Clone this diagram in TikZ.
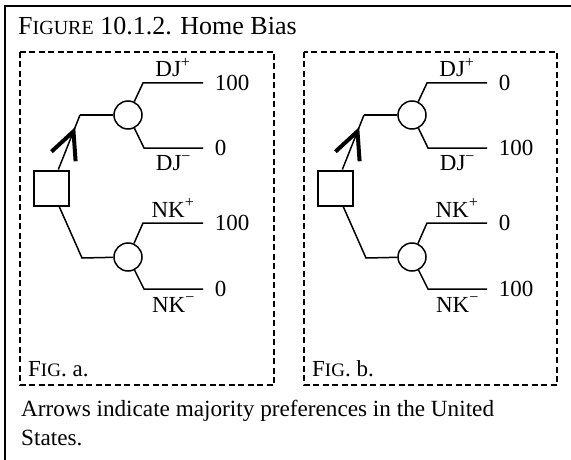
\documentclass[tikz,border=0pt]{standalone}
\usepackage{fontspec}
\setmainfont{Liberation Serif}
\usetikzlibrary{decorations.markings,calc}
\begin{document}
\begin{tikzpicture}[x=1pt,y=-1pt,
  frame/.style={line width=2.2pt},
  dbox/.style={line width=2pt, dash pattern=on 6pt off 3.5pt},
  dec/.style={draw, line width=2pt, rectangle, minimum size=35pt, inner sep=0pt},
  chance/.style={draw, line width=1.5pt, circle, minimum size=28pt, inner sep=0pt},
  branch/.style={line width=1.5pt},
  lbl/.style={font=\fontsize{23}{26}\selectfont, inner sep=0pt},
  pay/.style={lbl, anchor=west, xshift=11pt},
  uplbl/.style={lbl, anchor=base, yshift=6pt},
  dnlbl/.style={lbl, anchor=base, yshift=-23pt},
  figlbl/.style={font=\fontsize{23}{26}\selectfont, inner sep=0pt, anchor=base west},
  txt/.style={font=\fontsize{23.2}{29}\selectfont, inner sep=0pt, anchor=base west},
  pref/.style={postaction={decorate}, decoration={markings, mark=at position 0.7 with {\draw[line width=4pt, line join=miter] (-27,13) -- (0,0) -- (-27,-13);}}}
]
\useasboundingbox (0,0) rectangle (571,460);
\draw[frame] (5,460) -- (5,6) -- (571,6);
\node[txt, font=\fontsize{26}{30}\selectfont] (title) at (18,35) {F{\fontsize{20}{22}\selectfont IGURE} 10.1.2. Home Bias};

% Fig. a
\draw[dbox] (20,52) rectangle (274,385);
\node[dec] (sqA) at (51,188) {};
\coordinate (kA1) at (80,115);
\coordinate (kA2) at (82,258);
\node[chance] (cA1) at (128,115) {};
\node[chance] (cA2) at (128,257) {};
\coordinate (uA1) at (143,83);  \coordinate (uA1e) at (203,83);
\coordinate (dA1) at (144,148); \coordinate (dA1e) at (203,148);
\coordinate (uA2) at (143,223); \coordinate (uA2e) at (203,223);
\coordinate (dA2) at (144,289); \coordinate (dA2e) at (203,289);
\draw[branch, pref] (sqA) -- (kA1);
\draw[branch] (kA1) -- (cA1);
\draw[branch] (sqA) -- (kA2) -- (cA2);
\draw[branch] (cA1) -- (uA1) -- node[uplbl] {DJ\textsuperscript{+}} (uA1e) node[pay] {100};
\draw[branch] (cA1) -- (dA1) -- node[dnlbl] {DJ\textsuperscript{−}} (dA1e) node[pay] {0};
\draw[branch] (cA2) -- (uA2) -- node[uplbl] {NK\textsuperscript{+}} (uA2e) node[pay] {100};
\draw[branch] (cA2) -- (dA2) -- node[dnlbl] {NK\textsuperscript{−}} (dA2e) node[pay] {0};
\node[figlbl] (figa) at (28,376) {F{\fontsize{19}{21}\selectfont IG}. a.};

% Fig. b
\draw[dbox] (304,52) rectangle (557,385);
\begin{scope}[xshift=284pt]
\node[dec] (sqB) at (51,188) {};
\coordinate (kB1) at (80,115);
\coordinate (kB2) at (82,258);
\node[chance] (cB1) at (128,115) {};
\node[chance] (cB2) at (128,257) {};
\coordinate (uB1) at (143,83);  \coordinate (uB1e) at (203,83);
\coordinate (dB1) at (144,148); \coordinate (dB1e) at (203,148);
\coordinate (uB2) at (143,223); \coordinate (uB2e) at (203,223);
\coordinate (dB2) at (144,289); \coordinate (dB2e) at (203,289);
\draw[branch, pref] (sqB) -- (kB1);
\draw[branch] (kB1) -- (cB1);
\draw[branch] (sqB) -- (kB2) -- (cB2);
\draw[branch] (cB1) -- (uB1) -- node[uplbl] {DJ\textsuperscript{+}} (uB1e) node[pay] {0};
\draw[branch] (cB1) -- (dB1) -- node[dnlbl] {DJ\textsuperscript{−}} (dB1e) node[pay] {100};
\draw[branch] (cB2) -- (uB2) -- node[uplbl] {NK\textsuperscript{+}} (uB2e) node[pay] {0};
\draw[branch] (cB2) -- (dB2) -- node[dnlbl] {NK\textsuperscript{−}} (dB2e) node[pay] {100};
\node[figlbl] (figb) at (28,376) {F{\fontsize{19}{21}\selectfont IG}. b.};
\end{scope}

\node[txt] (cap1) at (21,416) {Arrows indicate majority preferences in the United};
\node[txt] (cap2) at (21,445) {States.};
\end{tikzpicture}
\end{document}
